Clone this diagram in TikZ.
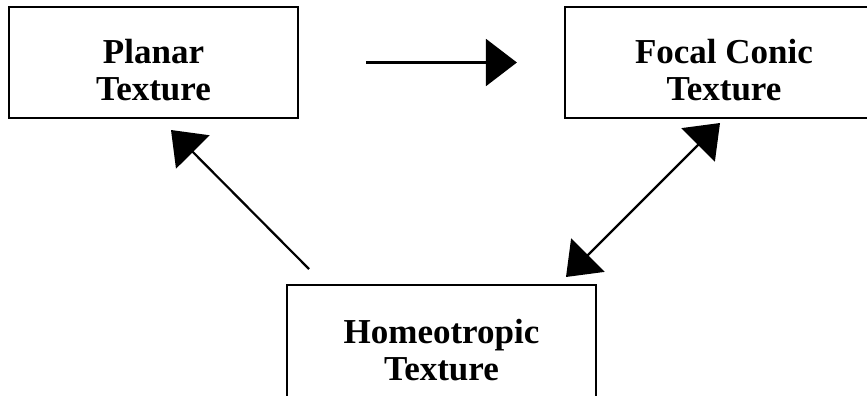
\documentclass[tikz,border=0pt]{standalone}
\usepackage{fontspec}
\setmainfont{Liberation Serif}
\usetikzlibrary{arrows.meta}
\begin{document}
\begin{tikzpicture}[x=1pt,y=-1pt,
  boxst/.style={draw=black, line width=2.2pt, rectangle, inner sep=0pt},
  txt/.style={align=center, font=\fontsize{35}{37}\selectfont\bfseries, inner sep=0pt},
  arr/.style={line width=2.2pt, -{Triangle[length=31pt,width=47pt]}},
  darr/.style={line width=2.2pt, {Triangle[length=31pt,width=47pt]}-{Triangle[length=31pt,width=47pt]}}]
\useasboundingbox (0,0) rectangle (867,396);
\begin{scope}
\clip (0,0) rectangle (867,396);
\node[boxst, minimum width=289pt, minimum height=111pt] (planar) at (153.5,62.5) {};
\node[boxst, minimum width=318pt, minimum height=111pt] (focal) at (724,62.5) {};
\node[boxst, minimum width=309pt, minimum height=112pt] (homeo) at (441.5,341) {};
\end{scope}
\node[txt, anchor=base] (planart) at (153.5,100) {Planar\\Texture};
\node[txt, anchor=base] (focalt) at (724,100) {Focal Conic\\Texture};
\node[txt, anchor=base] (homeot) at (441.5,380) {Homeotropic\\Texture};
\coordinate (h1) at (309,269);
\coordinate (p1) at (171,130);
\coordinate (h2) at (566,277);
\coordinate (f1) at (720,123);
\draw[arr, shorten <=67pt, shorten >=47pt] (planar.east) -- (focal.west);
\draw[arr] (h1) -- (p1);
\draw[darr] (h2) -- (f1);
\end{tikzpicture}
\end{document}
